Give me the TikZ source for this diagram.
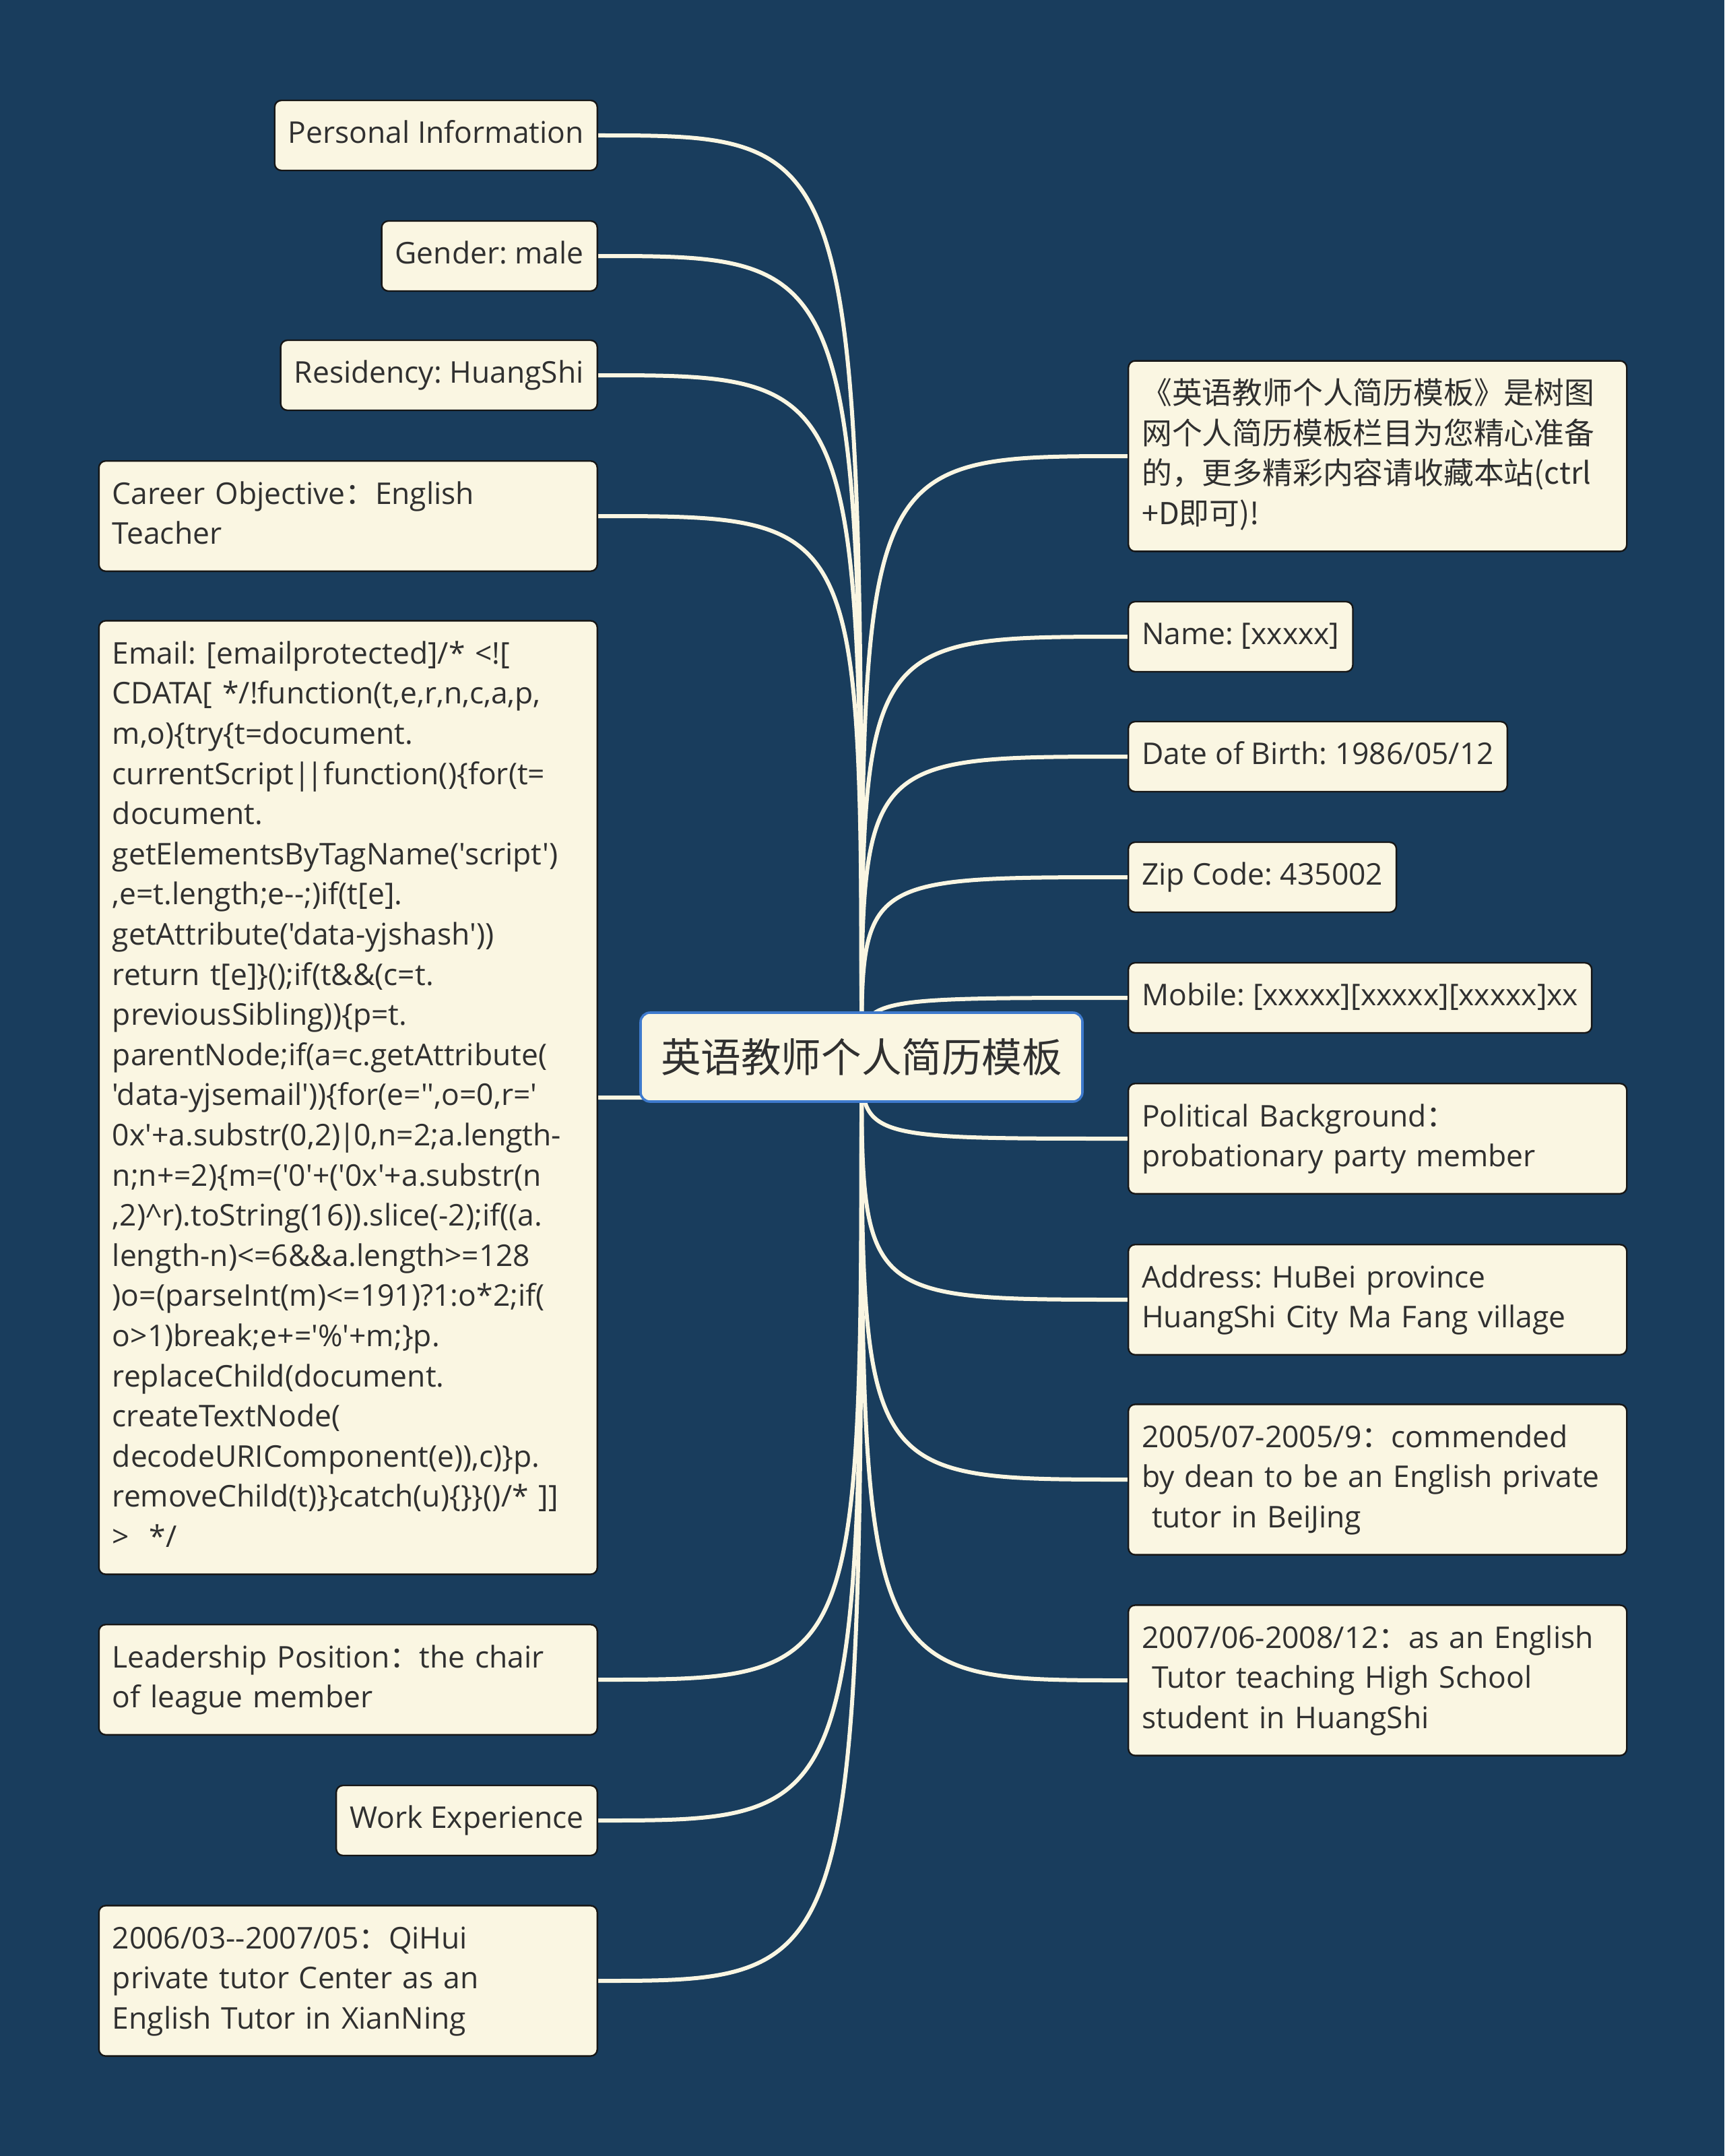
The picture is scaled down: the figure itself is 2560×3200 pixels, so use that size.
\documentclass[tikz,border=0pt]{standalone}
\usepackage{fontspec}
\usepackage{tikz}

\newfontfamily\latinfont{Open Sans}
\newfontfamily\cjk{Noto Sans CJK SC}
\newcommand{\qcolon}{{\cjk ：}}
\newcommand{\lnstrut}{\vrule height 10.43pt depth 4.47pt width 0pt}
\hyphenpenalty=10000
\exhyphenpenalty=10000
\frenchspacing

\definecolor{mapbg}{RGB}{25,61,93}
\definecolor{boxfill}{RGB}{250,246,226}
\definecolor{boxline}{RGB}{22,22,22}
\definecolor{ink}{RGB}{48,48,48}
\definecolor{rootline}{RGB}{62,122,205}

\pgfdeclarelayer{bg}
\pgfdeclarelayer{edges}
\pgfsetlayers{bg,edges,main}

\tikzset{
  topic/.style={draw=boxline, fill=boxfill, text=ink, line width=0.6pt,
    rounded corners=2.5pt, inner xsep=5pt, inner ysep=5.55pt,
    font=\latinfont\fontsize{11.1}{14.9}\selectfont,
    execute at begin node=\lnstrut, execute at end node=\lnstrut},
  wide/.style={topic, text width=175pt, align=left},
  root/.style={draw=rootline, fill=boxfill, text=ink, line width=0.9pt,
    rounded corners=3.5pt, minimum width=164pt, minimum height=33pt,
    font=\cjk\fontsize{14.9}{18}\selectfont},
  branch/.style={draw=boxfill, line width=1.5pt}
}

\begin{document}
\frenchspacing
\begin{tikzpicture}[x=0.25pt, y=-0.25pt, line cap=round, line join=round]

  %% ════ canvas ════
  \begin{pgfonlayer}{bg}
    \fill[mapbg] (0,0) rectangle (2560,3200);
  \end{pgfonlayer}

  %% ════ centre ════
  \node[root] (root) at (1279,1569) {英语教师个人简历模板};

  %% ════ left topics (right edge at 888) ════
  \node[topic, anchor=east] (info)   at (888,201) {Personal Information};
  \node[topic, anchor=east] (gender) at (888,380) {Gender: male};
  \node[topic, anchor=east] (resid)  at (888,557) {Residency: HuangShi};
  \node[wide,  anchor=east] (career) at (888,766) {Career Objective\qcolon{}English\\Teacher};
  \node[wide,  anchor=east] (email)  at (888,1629) {Email: [emailprotected]/* <![\\
    CDATA[ */!function(t,e,r,n,c,a,p,\\
    m,o)\{try\{t=document.\\
    currentScript|\kern-1.2pt|function()\{for(t=\\
    document.\\
    getElementsByTagName('script')\\
    ,e=t.length;e--;)if(t[e].\\
    getAttribute('data-yjshash'))\\
    return t[e]\}();if(t\&\&(c=t.\\
    previousSibling))\{p=t.\\
    parentNode;if(a=c.getAttribute(\\
    'data-yjsemail'))\{for(e='',o=0,r='\\
    0x'+a.substr(0,2)\kern-0.6pt|\kern-0.6pt0,n=2;a.length-\\
    n;n+=2)\{m=('0'+('0x'+a.substr(n\\
    ,2)\textasciicircum r).toString(16)).slice(-2);if((a.\\
    length-n)<=6\&\&a.length>=128\\
    )o=(parseInt(m)<=191)?1:o*2;if(\\
    o>1)break;e+='\%'+m;\}p.\\
    replaceChild(document.\\
    createTextNode(\\
    decodeURIComponent(e)),c)\}p.\\
    removeChild(t)\}\}catch(u)\{\}\}()/* ]]\\
    >\ \ */};
  \node[wide,  anchor=east] (leader) at (888,2493) {Leadership Position\qcolon{}the chair\\of league member};
  \node[topic, anchor=east] (work)   at (888,2702) {Work Experience};
  \node[wide,  anchor=east] (tutor06) at (888,2940) {2006/03--2007/05\qcolon{}QiHui\\private tutor Center as an\\English Tutor in XianNing};

  %% ════ right topics (left edge at 1674) ════
  \node[wide,  anchor=west, font=\cjk\fontsize{11.2}{14.9}\selectfont] (intro) at (1674,677)
    {《英语教师个人简历模板》是树图\\网个人简历模板栏目为您精心准备\\的，更多精彩内容请收藏本站(ctrl\\+D即可)!};
  \node[topic, anchor=west] (name)   at (1674,945)  {Name: [xxxxx]};
  \node[topic, anchor=west] (birth)  at (1674,1123) {Date of Birth: 1986/05/12};
  \node[topic, anchor=west] (zip)    at (1674,1302) {Zip Code: 435002};
  \node[topic, anchor=west] (mobile) at (1674,1481) {Mobile: [xxxxx][xxxxx][xxxxx]xx};
  \node[wide,  anchor=west] (polit)  at (1674,1690) {Political Background\qcolon\\probationary party member};
  \node[wide,  anchor=west] (addr)   at (1674,1929) {Address: HuBei province\\HuangShi City Ma Fang village};
  \node[wide,  anchor=west] (job05)  at (1674,2196) {2005/07-2005/9\qcolon{}commended\\by dean to be an English private\\\ tutor in BeiJing};
  \node[wide,  anchor=west] (job07)  at (1674,2494) {2007/06-2008/12\qcolon{}as an English\\\ Tutor teaching High School\\student in HuangShi};

  %% ════ branches (hidden under the centre box at their start) ════
  \begin{pgfonlayer}{edges}
    \draw[branch] (root.center) .. controls (root.center |- info.east) .. (info.east);
    \draw[branch] (root.center) .. controls (root.center |- gender.east) .. (gender.east);
    \draw[branch] (root.center) .. controls (root.center |- resid.east) .. (resid.east);
    \draw[branch] (root.center) .. controls (root.center |- career.east) .. (career.east);
    \draw[branch] (root.center) .. controls (root.center |- email.east) .. (email.east);
    \draw[branch] (root.center) .. controls (root.center |- leader.east) .. (leader.east);
    \draw[branch] (root.center) .. controls (root.center |- work.east) .. (work.east);
    \draw[branch] (root.center) .. controls (root.center |- tutor06.east) .. (tutor06.east);
    \draw[branch] (root.center) .. controls (root.center |- intro.west) .. (intro.west);
    \draw[branch] (root.center) .. controls (root.center |- name.west) .. (name.west);
    \draw[branch] (root.center) .. controls (root.center |- birth.west) .. (birth.west);
    \draw[branch] (root.center) .. controls (root.center |- zip.west) .. (zip.west);
    \draw[branch] (root.center) .. controls (root.center |- mobile.west) .. (mobile.west);
    \draw[branch] (root.center) .. controls (root.center |- polit.west) .. (polit.west);
    \draw[branch] (root.center) .. controls (root.center |- addr.west) .. (addr.west);
    \draw[branch] (root.center) .. controls (root.center |- job05.west) .. (job05.west);
    \draw[branch] (root.center) .. controls (root.center |- job07.west) .. (job07.west);
  \end{pgfonlayer}

  \pgfresetboundingbox
  \path[use as bounding box] (0,0) rectangle (2560,3200);
\end{tikzpicture}
\end{document}
